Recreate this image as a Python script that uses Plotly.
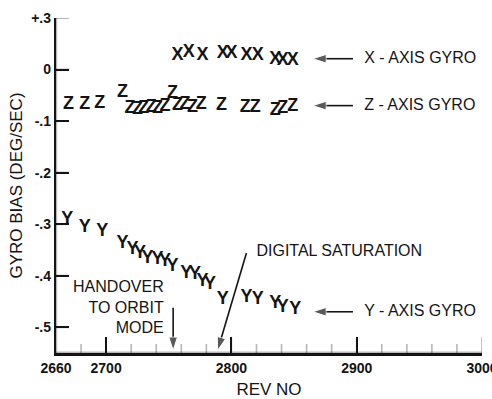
import plotly.graph_objects as go

# Gyro bias history, one letter per sample
x_rev = [2757, 2766, 2777, 2793, 2800, 2812, 2821, 2835, 2841, 2849]
x_bias = [0.027, 0.033, 0.027, 0.031, 0.031, 0.027, 0.027, 0.020, 0.018, 0.017]

z_rev = [2670, 2683, 2695, 2713, 2719, 2725, 2730, 2736, 2741, 2747, 2753,
         2757, 2763, 2769, 2776, 2792, 2811, 2819, 2835, 2841, 2849]
z_bias = [-0.068, -0.068, -0.066, -0.044, -0.075, -0.077, -0.075, -0.073, -0.075,
          -0.072, -0.046, -0.070, -0.068, -0.073, -0.068, -0.070, -0.073, -0.073,
          -0.079, -0.075, -0.072]

y_rev = [2669, 2683, 2697, 2713, 2721, 2727, 2733, 2741, 2747, 2753, 2764, 2771,
         2777, 2783, 2793, 2812, 2821, 2835, 2841, 2851]
y_bias = [-0.290, -0.306, -0.315, -0.337, -0.350, -0.356, -0.366, -0.369, -0.373,
          -0.383, -0.395, -0.398, -0.412, -0.418, -0.447, -0.443, -0.447, -0.453,
          -0.462, -0.466]

# Axis ranges and ticks
x_range = [2660, 3000]
y_range = [-0.55, 0.1]
x_tickvals = [2660, 2700, 2800, 2900, 3000]
x_ticktext = ["2660", "2700", "2800", "2900", "3000"]
x_minor_step = 20
y_tickvals = [0.1, 0.0, -0.1, -0.2, -0.3, -0.4, -0.5]
y_ticktext = ["+.3", "0", "-.1", "-.2", "-.3", "-.4", "-.5"]

# Callout labels and the arrows that point from them: (tail rev, tail bias, tip rev, tip bias)
series_labels = ["X - AXIS GYRO", "Z - AXIS GYRO", "Y - AXIS GYRO"]
series_label_rev = [2906, 2906, 2906]
series_label_bias = [0.021, -0.070, -0.470]
series_arrows = [(2897, 0.021, 2865, 0.021),
                 (2897, -0.070, 2865, -0.070),
                 (2897, -0.470, 2865, -0.470)]
saturation_label = ("DIGITAL SATURATION", 2820, -0.354)
saturation_arrow = (2812, -0.356, 2789, -0.545)
handover_label = ("HANDOVER<br>TO ORBIT<br>MODE", 2746, -0.464)
handover_arrow = (2753.5, -0.462, 2753.5, -0.545)

FONT = "Liberation Sans, Arial, sans-serif"
INK = "#141414"

W, H = 492, 399
L, R, T, B = 56, 10, 18, 46
plot_w, plot_h = W - L - R, H - T - B

fig = go.Figure()

# all letter-coded samples in one text trace
letters = ["X"] * len(x_rev) + ["Z"] * len(z_rev) + ["Y"] * len(y_rev)
fig.add_trace(go.Scatter(
    x=x_rev + z_rev + y_rev, y=x_bias + z_bias + y_bias,
    mode="text", text=letters, textposition="middle center",
    textfont=dict(family=FONT, size=18, color=INK, weight="bold"),
    showlegend=False, hoverinfo="skip",
))

# arrows: a line from tail to tip, arrowhead marker oriented along the line
for x0, y0, x1, y1 in series_arrows + [saturation_arrow, handover_arrow]:
    fig.add_trace(go.Scatter(
        x=[x0, x1], y=[y0, y1], mode="lines+markers",
        line=dict(color=INK, width=1.6),
        marker=dict(symbol="arrow", angleref="previous", size=[0, 14], color=INK),
        showlegend=False, hoverinfo="skip", cliponaxis=False,
    ))

label_font = dict(family=FONT, size=16, color=INK)
fig.add_trace(go.Scatter(
    x=series_label_rev + [saturation_label[1], handover_label[1]],
    y=series_label_bias + [saturation_label[2], handover_label[2]],
    text=series_labels + [saturation_label[0], handover_label[0]],
    mode="text",
    textposition=["middle right"] * 4 + ["middle left"],
    textfont=label_font,
    showlegend=False, hoverinfo="skip", cliponaxis=False,
))

# axis frame and inward ticks as layout shapes
line_style = dict(color=INK, width=2.4)
shapes = [
    dict(type="line", xref="paper", yref="paper", x0=0, x1=0, y0=0, y1=1,
         line=line_style, layer="above"),
    dict(type="line", xref="paper", yref="paper", x0=0, x1=1, y0=0, y1=0,
         line=dict(color=INK, width=3), layer="above"),
]
for v in y_tickvals:
    shapes.append(dict(type="line", xref="paper", yref="y", x0=0, x1=13 / plot_w,
                       y0=v, y1=v, line=dict(color=INK, width=2), layer="above"))
rev = x_range[0] + x_minor_step
while rev <= x_range[1]:
    ln = 16 if rev in x_tickvals else 9
    shapes.append(dict(type="line", xref="x", yref="paper", x0=rev, x1=rev,
                       y0=0, y1=ln / plot_h, line=dict(color=INK, width=1.6),
                       layer="above"))
    rev += x_minor_step

tick_font = dict(family=FONT, size=14, color=INK, weight="bold")
title_font = dict(family=FONT, size=17, color=INK)

fig.update_layout(
    template="simple_white",
    width=W, height=H,
    margin=dict(l=L, r=R, t=T, b=B),
    shapes=shapes,
    xaxis=dict(
        range=x_range, tickmode="array", tickvals=x_tickvals, ticktext=x_ticktext,
        ticks="inside", ticklen=16, tickwidth=2, tickcolor=INK,
        showline=True, linewidth=3, linecolor=INK, showgrid=False, zeroline=False,
        tickfont=tick_font, ticklabeloverflow="allow", automargin=False,
        title=dict(text="REV NO", font=title_font, standoff=14),
    ),
    yaxis=dict(
        range=y_range, tickmode="array", tickvals=y_tickvals, ticktext=y_ticktext,
        ticks="inside", ticklen=13, tickwidth=2, tickcolor=INK,
        showline=True, linewidth=2.4, linecolor=INK, showgrid=False, zeroline=False,
        tickfont=tick_font, automargin=False,
        title=dict(text="GYRO BIAS (DEG/SEC)", font=title_font, standoff=4),
    ),
)

fig.write_html("out.html")
